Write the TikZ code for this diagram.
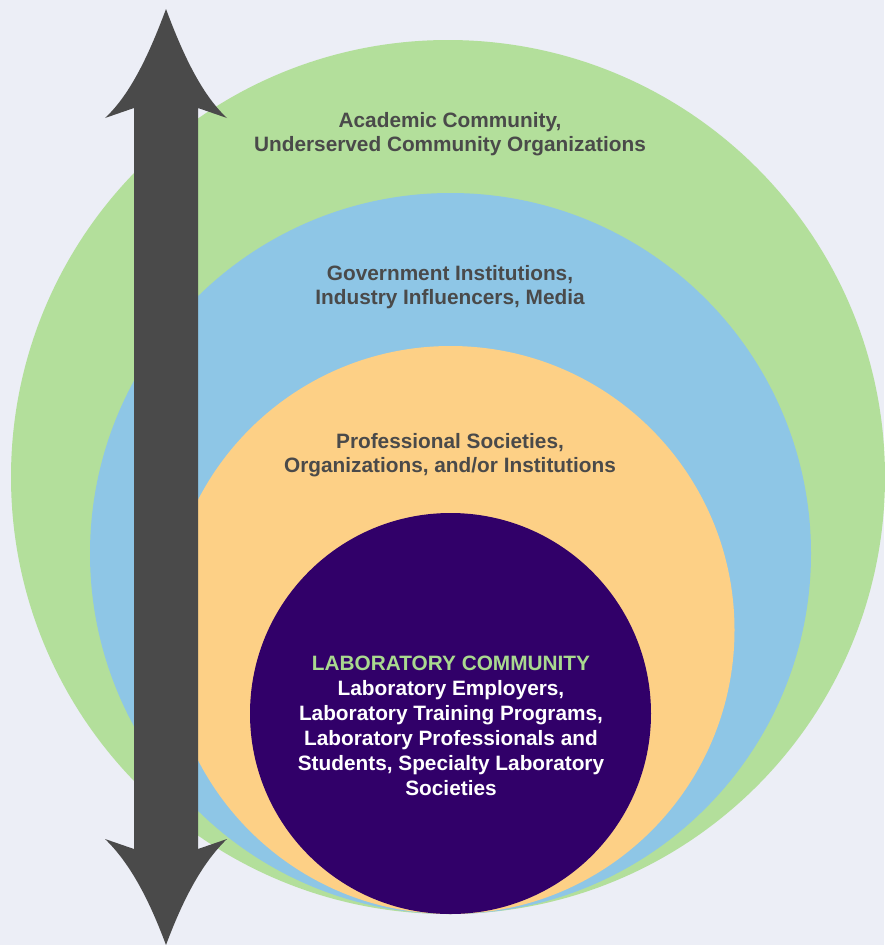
\documentclass[tikz,border=0pt]{standalone}
\usepackage{fontspec}
\setmainfont{Liberation Sans}
\definecolor{bgc}{HTML}{ECEEF6}
\definecolor{greenc}{HTML}{B3DF9B}
\definecolor{bluec}{HTML}{8EC6E6}
\definecolor{orangec}{HTML}{FDD086}
\definecolor{purplec}{HTML}{310069}
\definecolor{arrowc}{HTML}{4A4A4A}
\definecolor{textc}{HTML}{4A4A4A}
\definecolor{labgreen}{HTML}{A9D98F}
\begin{document}
\begin{tikzpicture}[x=1pt,y=-1pt,
  ringlabel/.style={align=center,text=textc,font=\fontsize{20.8}{24.5}\selectfont\bfseries,inner sep=0pt},
  corelabel/.style={align=center,text=white,font=\fontsize{20.8}{25}\selectfont\bfseries,inner sep=0pt}]
\fill[bgc] (0,0) rectangle (884,945);
\useasboundingbox (0,0) rectangle (884,945);
\fill[greenc] (448,477) circle (437);
\fill[bluec] (450.5,553.5) circle (360.5);
\fill[orangec] (450.5,630) circle (284);
\fill[purplec] (450.5,713.5) circle (200.5);
% double arrow
\fill[arrowc] (166,9) .. controls (182,52) and (201,94) .. (227,118)
  -- (198,108) -- (198,849) -- (227,839)
  .. controls (201,864) and (182,902) .. (166,945)
  .. controls (150,902) and (131,864) .. (105,839)
  -- (134,849) -- (134,108) -- (105,118)
  .. controls (131,94) and (150,52) .. (166,9) -- cycle;
\node[ringlabel] (acad) at (450,134) {Academic Community,\\Underserved Community Organizations};
\node[ringlabel] (gov) at (450,287) {Government Institutions,\\Industry Influencers, Media};
\node[ringlabel] (prof) at (450,455) {Professional Societies,\\Organizations, and/or Institutions};
\node[corelabel] (lab) at (451,726) {\textcolor{labgreen}{LABORATORY COMMUNITY}\\Laboratory Employers,\\Laboratory Training Programs,\\Laboratory Professionals and\\Students, Specialty Laboratory\\Societies};
\end{tikzpicture}
\end{document}
